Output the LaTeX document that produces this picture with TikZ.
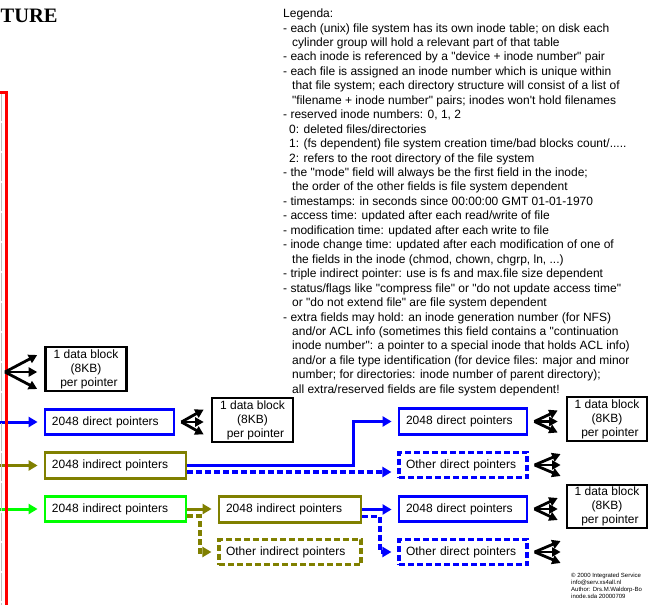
\documentclass[tikz,border=0pt]{standalone}
\usepackage{fontspec}
\newfontfamily\sansf{Liberation Sans}
\newfontfamily\titlef{Liberation Serif}
\usetikzlibrary{arrows.meta,calc}

\definecolor{olivec}{RGB}{128,128,0}
\definecolor{greenc}{RGB}{0,255,0}
\definecolor{bluec}{RGB}{0,0,255}
\definecolor{redc}{RGB}{255,0,0}

\begin{document}
\begin{tikzpicture}[x=1pt,y=-1pt,
  ptr/.style={rectangle, draw, line width=2.8pt, inner xsep=7pt, inner ysep=0pt,
    minimum height=25.5pt, align=left,
    font=\sansf\fontsize{12}{14.4}\selectfont},
  dptr/.style={ptr, dash pattern=on 6pt off 3pt, line width=3.2pt},
  datab/.style={rectangle, draw=black, line width=2.6pt, inner sep=0pt,
    minimum width=81pt, minimum height=44pt, align=center,
    font=\sansf\fontsize{12}{14}\selectfont},
  arr/.style={line width=3pt, -{Triangle[length=9pt,width=10pt]}, shorten >=6pt},
  darr/.style={arr, line width=3.2pt, dash pattern=on 6pt off 3pt},
  fanarr/.style={line width=2.8pt, black, -{Triangle[length=8.5pt,width=9pt]}},
  txt/.style={inner sep=0pt, align=left}
]
% page
\fill[white] (0,0) rectangle (649,605);
\clip (0,0) rectangle (649,605);

% heading
\node[inner sep=0pt, anchor=base west, font=\titlef\bfseries\fontsize{20.5}{26}\selectfont]
  (title) at (0.5,22.7) {TURE};

% legend
\node[txt, anchor=north west, font=\sansf\fontsize{12}{14.45}\selectfont] (legend) at (283,8.7) {%
Legenda:\\
- each (unix) file system has its own inode table; on disk each\\
\hspace*{0.75em}cylinder group will hold a relevant part of that table\\
- each inode is referenced by a "device + inode number" pair\\
- each file is assigned an inode number which is unique within\\
\hspace*{0.75em}that file system; each directory structure will consist of a list of\\
\hspace*{0.75em}"filename + inode number" pairs; inodes won't hold filenames\\
- reserved inode numbers: 0, 1, 2\\
\hspace*{0.5em}0: deleted files/directories\\
\hspace*{0.5em}1: (fs dependent) file system creation time/bad blocks count/.....\\
\hspace*{0.5em}2: refers to the root directory of the file system\\
- the "mode" field will always be the first field in the inode;\\
\hspace*{0.75em}the order of the other fields is file system dependent\\
- timestamps: in seconds since 00:00:00 GMT 01-01-1970\\
- access time: updated after each read/write of file\\
- modification time: updated after each write to file\\
- inode change time: updated after each modification of one of\\
\hspace*{0.75em}the fields in the inode (chmod, chown, chgrp, ln, ...)\\
- triple indirect pointer: use is fs and max.file size dependent\\
- status/flags like "compress file" or "do not update access time"\\
\hspace*{0.75em}or "do not extend file" are file system dependent\\
- extra fields may hold: an inode generation number (for NFS)\\
\hspace*{0.75em}and/or ACL info (sometimes this field contains a "continuation\\
\hspace*{0.75em}inode number": a pointer to a special inode that holds ACL info)\\
\hspace*{0.75em}and/or a file type identification (for device files: major and minor\\
\hspace*{0.75em}number; for directories: inode number of parent directory);\\
\hspace*{0.75em}all extra/reserved fields are file system dependent!};

% footer
\node[txt, anchor=north west, font=\sansf\fontsize{6}{7.3}\selectfont] (footer) at (571,572.5) {%
\textcopyright\ 2000 Integrated Service\\
info@serv.xs4all.nl\\
Author: Drs.M.Waldorp-Bo\\
inode.sda 20000709};

% pointer blocks
\node[ptr, draw=bluec, text width=115pt] (blueL) at (109.5,422) {2048 direct pointers};
\node[ptr, draw=olivec, text width=127pt] (oliveL) at (115.5,465.5) {2048 indirect pointers};
\node[ptr, draw=greenc, text width=127pt] (greenL) at (115.5,509) {2048 indirect pointers};

\node[ptr, draw=olivec, text width=128pt] (oliveM) at (290,509.5) {2048 indirect pointers};
\node[dptr, draw=olivec, text width=128pt] (oliveMd) at (290,552) {Other indirect pointers};

\node[ptr, draw=bluec, text width=114pt] (blueR1) at (463,421.5) {2048 direct pointers};
\node[dptr, draw=bluec, text width=114pt] (blueR1d) at (463,465) {Other direct pointers};
\node[ptr, draw=bluec, text width=114pt] (blueR2) at (463,509) {2048 direct pointers};
\node[dptr, draw=bluec, text width=114pt] (blueR2d) at (463,552) {Other direct pointers};

% data blocks
\node[datab] (data1) at (86,369) {1 data block\\(8KB)\\\hspace*{0.5em}per pointer};
\node[datab] (data2) at (252.5,420) {1 data block\\(8KB)\\\hspace*{0.5em}per pointer};
\node[datab, minimum width=80pt] (data3) at (607,419) {1 data block\\(8KB)\\\hspace*{0.5em}per pointer};
\node[datab, minimum width=80pt, minimum height=43pt] (data4) at (607,506.5) {1 data block\\(8KB)\\\hspace*{0.5em}per pointer};

% incoming pointers from the inode table
\coordinate (inBlue) at (0,422);
\coordinate (inOlive) at (0,465.5);
\coordinate (inGreen) at (0,509);
\draw[arr, bluec] (inBlue) -- (blueL.west);
\draw[arr, olivec] (inOlive) -- (oliveL.west);
\draw[arr, greenc] (inGreen) -- (greenL.west);

% inode table edge
\coordinate (gTop) at (1,93);
\coordinate (gBot) at (1,605);
\draw[black!25, line width=1pt, dash pattern=on 28pt off 2pt] (gTop) -- (gBot);
\coordinate (redL) at (-3,92);
\coordinate (redTop) at (6,92);
\coordinate (redBot) at (6,610);
\draw[redc, line width=3pt] (redL) -- (redTop) -- (redBot);

% direct pointers fanning out to data blocks
\coordinate (fan1) at (5,372);
\foreach \dy in {-17,0,17}
  \draw[fanarr] (fan1) -- ($(fan1 -| data1.west)+(-7,\dy)$);
\coordinate (fan2) at ($(blueL.east)+(6,0)$);
\foreach \dy in {-12.5,0,12.5}
  \draw[fanarr] (fan2) -- ($(fan2 -| data2.west)+(-7,\dy)$);
\foreach \b/\d in {blueR1/data3, blueR2/data4} {
  \coordinate (fv) at ($(\b.east)+(6,0)$);
  \foreach \dy in {-11,0,11}
    \draw[fanarr] (fv) -- ($(fv -| \d.west)+(-8,\dy)$);
}
\foreach \b in {blueR1d, blueR2d} {
  \coordinate (fv) at ($(\b.east)+(6,0)$);
  \coordinate (fe) at ($(\b.east)+(32,0)$);
  \foreach \dy in {-11,0,11}
    \draw[fanarr] (fv) -- ($(fe)+(0,\dy)$);
}

% single indirect block to direct blocks
\coordinate (bend1) at (353,0);
\draw[arr, bluec] (oliveL.east) -- (oliveL.east -| bend1) -- (bend1 |- blueR1.west) -- (blueR1.west);
\coordinate (oOut) at ($(oliveL.east)+(0,6.5)$);
\draw[darr, bluec] (oOut) -- (oOut -| blueR1d.west);

% double indirect block to indirect blocks
\draw[arr, olivec] (greenL.east) -- (greenL.east -| oliveM.west);
\coordinate (gOut) at ($(greenL.east)+(0,7)$);
\coordinate (bend2) at (200,0);
\draw[darr, olivec] (gOut) -- (gOut -| bend2) -- (bend2 |- oliveMd.west) -- (oliveMd.west);

% indirect block to direct blocks
\draw[arr, bluec] (oliveM.east) -- (oliveM.east -| blueR2.west);
\coordinate (mOut) at ($(oliveM.east)+(0,7)$);
\coordinate (bend3) at (380,0);
\draw[darr, bluec] (mOut) -- (mOut -| bend3) -- (bend3 |- blueR2d.west) -- (blueR2d.west);
\end{tikzpicture}
\end{document}
